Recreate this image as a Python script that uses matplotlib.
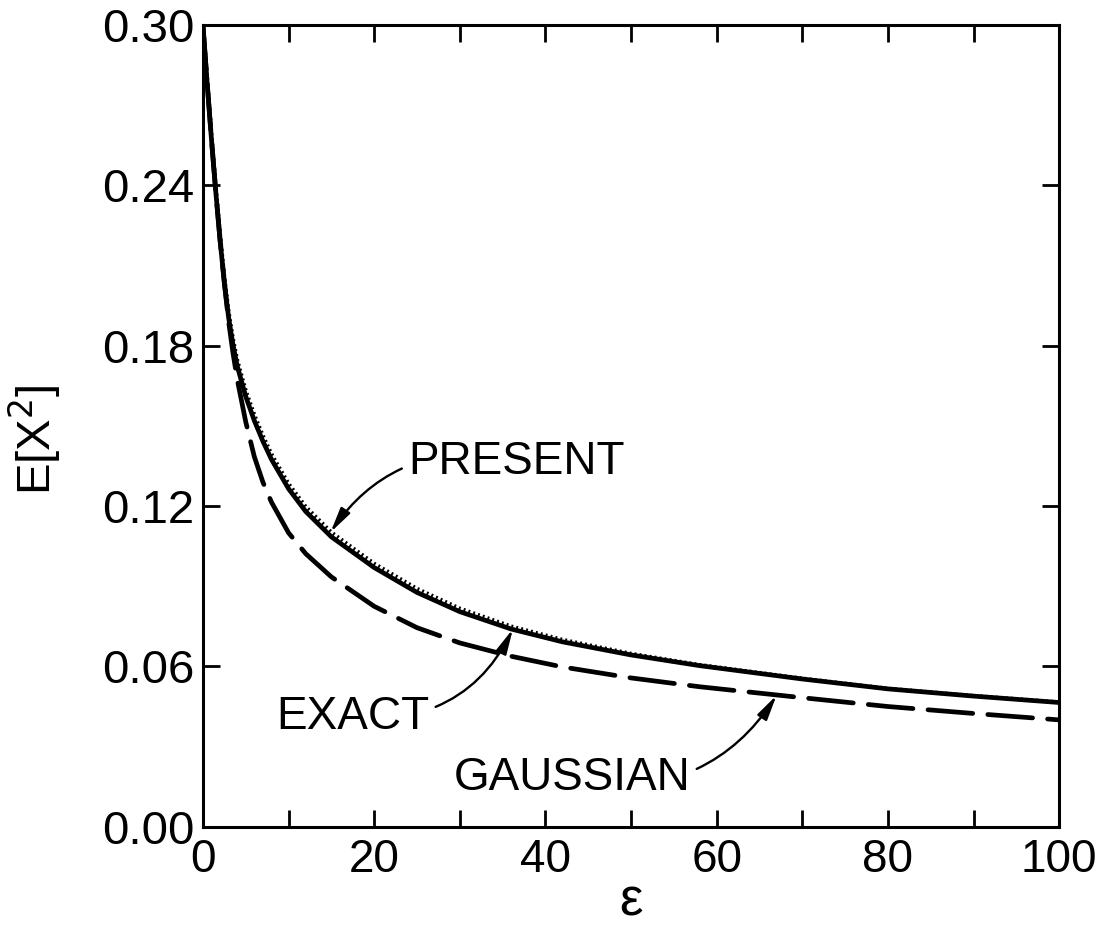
import matplotlib.pyplot as plt
from matplotlib.ticker import MultipleLocator

plt.rcParams['font.family'] = ['Liberation Sans', 'DejaVu Sans']

# epsilon grid and E[X^2] values
eps = [0, 0.5, 1, 1.5, 2, 2.5, 3, 3.5, 4, 5, 6, 7, 8, 10, 12, 15, 20, 25,
       30, 36, 42, 50, 58, 70, 80, 90, 100]
exact = [0.300, 0.278, 0.257, 0.2375, 0.2195, 0.2035, 0.1905, 0.1805,
         0.1725, 0.1610, 0.1520, 0.1443, 0.1375, 0.1265, 0.1180, 0.1085,
         0.0970, 0.0877, 0.0805, 0.0740, 0.0692, 0.0643, 0.0603, 0.0553,
         0.0516, 0.0489, 0.0465]
present = [0.301, 0.2798, 0.2590, 0.2397, 0.2218, 0.2058, 0.1928, 0.1828,
           0.1748, 0.1633, 0.1542, 0.1464, 0.1395, 0.1284, 0.1198, 0.1102,
           0.0985, 0.0891, 0.0817, 0.0750, 0.0700, 0.0648, 0.0606, 0.0555,
           0.0517, 0.0490, 0.0466]
gaussian = [0.300, 0.278, 0.257, 0.2375, 0.2195, 0.2035, 0.189, 0.1775,
            0.1675, 0.1515, 0.1385, 0.1290, 0.1215, 0.1100, 0.1022, 0.0935,
            0.0825, 0.0745, 0.0688, 0.0638, 0.0598, 0.0557, 0.0524, 0.0483,
            0.0450, 0.0424, 0.0400]

fig = plt.figure(figsize=(10.97, 9.30), dpi=100)
ax = fig.add_axes([0.185, 0.111, 0.7805, 0.862])

ax.plot(eps, exact, color='black', lw=3.4, solid_joinstyle='round')
ax.plot(eps, present, color='black', lw=2.8, linestyle=(0, (0.5, 0.8)))
ax.plot(eps, gaussian, color='black', lw=3.4, dashes=(9.5, 3.2),
        dash_capstyle='round')

ax.set_xlim(0, 100)
ax.set_ylim(0, 0.30)
ax.xaxis.set_major_locator(MultipleLocator(20))
ax.xaxis.set_minor_locator(MultipleLocator(10))
ax.yaxis.set_major_locator(MultipleLocator(0.06))
ax.yaxis.set_major_formatter(plt.FormatStrFormatter('%.2f'))

for s in ax.spines.values():
    s.set_linewidth(2.2)
ax.tick_params(which='both', direction='in', top=True, right=True,
               width=2, length=12, pad=8)
ax.tick_params(axis='x', labelsize=33)
ax.tick_params(axis='y', labelsize=34, pad=6)

ax.set_xlabel('ε', fontsize=38, labelpad=-4)
ax.set_ylabel('E[X$^{2}$]', fontsize=34)
ax.yaxis.set_label_coords(-0.163, 0.483)

# curve labels with bent leader arrows
arr = dict(arrowstyle='-|>,head_length=1.0,head_width=0.22', color='black',
           lw=1.7, shrinkA=3, shrinkB=0, mutation_scale=15,
           connectionstyle='arc3,rad=0.35')
ax.annotate('PRESENT', xy=(14.9, 0.1102), xytext=(24.0, 0.1365),
            fontsize=33, va='center', ha='left', arrowprops=arr)
ax.annotate('EXACT', xy=(36.2, 0.0740), xytext=(26.4, 0.0412),
            fontsize=33, va='center', ha='right', arrowprops=arr)
ax.annotate('GAUSSIAN', xy=(67.0, 0.0492), xytext=(56.9, 0.0183),
            fontsize=33, va='center', ha='right', arrowprops=arr)

plt.savefig('out.png', dpi=100)
